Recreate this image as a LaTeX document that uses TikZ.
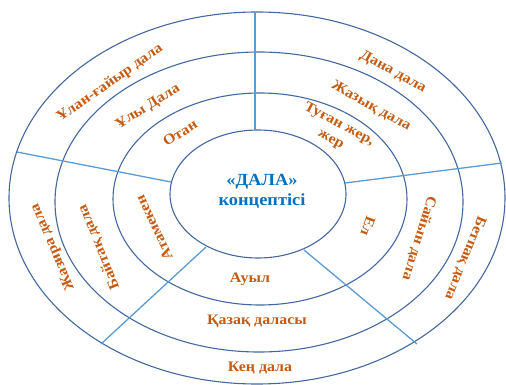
\documentclass[tikz,border=0pt]{standalone}
\usepackage{fontspec}
\setmainfont{Liberation Serif}
\definecolor{ringblue}{HTML}{44689E}
\definecolor{divblue}{HTML}{5B9BD5}
\definecolor{lbl}{HTML}{C55A11}
\definecolor{ctr}{HTML}{0070C0}
\begin{document}
\begin{tikzpicture}[x=1pt,y=-1pt,
  ring/.style={draw=ringblue,line width=1.1pt},
  divider/.style={draw=divblue,line width=1.3pt},
  lab/.style={text=lbl,font=\fontsize{14.5}{15}\selectfont\bfseries,inner sep=0pt},
  ctrlab/.style={text=ctr,font=\fontsize{17}{20}\selectfont\bfseries,inner sep=0pt,align=center,xscale=1.08}]
\useasboundingbox (0,0) rectangle (506,385);
% rings
\draw[ring] (257,198) ellipse [x radius=248,y radius=186];
\draw[ring] (259,202) ellipse [x radius=204,y radius=150];
\draw[ring] (260,199) ellipse [x radius=147,y radius=106];
\draw[ring] (258,194) ellipse [x radius=88,y radius=64];
% divider end points
\coordinate (a1) at (255,12);   \coordinate (a2) at (255,130);
\coordinate (b1) at (17,152);   \coordinate (b2) at (171,182);
\coordinate (c1) at (502,163);  \coordinate (c2) at (345,183);
\coordinate (d1) at (101,344);  \coordinate (d2) at (206,247);
\coordinate (e1) at (417,344);  \coordinate (e2) at (304,250);
\draw[divider] (a1) -- (a2);
\draw[divider] (b1) -- (b2);
\draw[divider] (c1) -- (c2);
\draw[divider] (d1) -- (d2);
\draw[divider] (e1) -- (e2);
% centre
\node[ctrlab] (centre) at (262,191) {«ДАЛА»\\концептісі};
% labels
\node[lab,rotate=35,xscale=1.1] (t1) at (110,83) {Ұлан-ғайыр дала};
\node[lab,rotate=32,xscale=1.1] (t2) at (148,107) {Ұлы Дала};
\node[lab,rotate=32,xscale=1.1] (t3) at (180,133) {Отан};
\node[lab,rotate=-29,xscale=1.1] (t4) at (393,72) {Дана дала};
\node[lab,rotate=-29,xscale=1.1] (t5) at (371,106) {Жазық дала};
\node[lab,rotate=-28,xscale=1.1,align=center] (t6) at (335,132) {Туған жер,\\[2pt]жер};
\node[lab,rotate=-107,xscale=1.1] (t7) at (419,238) {Сайын дала};
\node[lab,rotate=-112,xscale=1.1] (t8) at (465,258) {Бетпақ дала};
\node[lab,rotate=-110,xscale=1.1] (t9) at (368,226) {Ел};
\node[lab,rotate=115,xscale=1.1] (t10) at (154,228) {Атамекен};
\node[lab,rotate=112,xscale=1.1] (t11) at (99,247) {Байтақ дала};
\node[lab,rotate=113,xscale=1.1] (t12) at (53,247) {Жазира дала};
\node[lab,xscale=1.1] (t13) at (250,279) {Ауыл};
\node[lab,xscale=1.1] (t14) at (257,321) {Қазақ даласы};
\node[lab,xscale=1.1] (t15) at (260,368) {Кең дала};
\end{tikzpicture}
\end{document}
